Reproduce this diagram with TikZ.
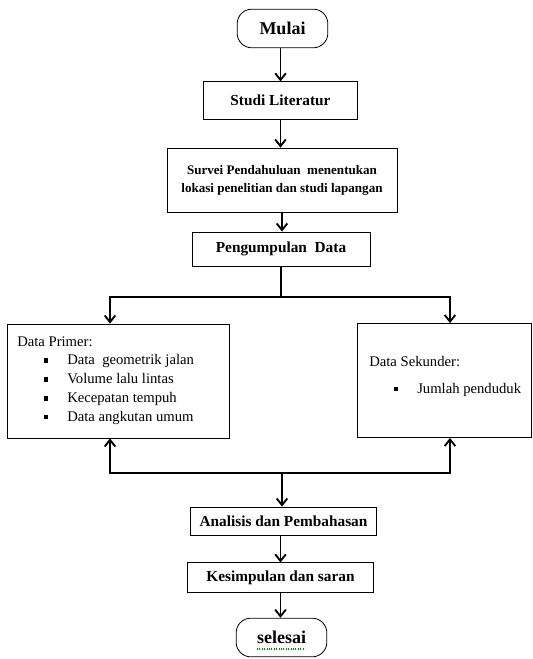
\documentclass[tikz,border=0pt]{standalone}
\usepackage{fontspec}
\setmainfont{Liberation Serif}
\usetikzlibrary{arrows.meta,positioning}

\begin{document}
\begin{tikzpicture}[x=0.75pt, y=-0.75pt, >={Straight Barb[length=5pt,width=8pt]},
    kotak/.style={draw, line width=0.6pt, inner sep=0pt, align=center,
        font=\bfseries\fontsize{11.5}{14}\selectfont},
    ujung/.style={kotak, rounded corners=11pt, font=\bfseries\fontsize{13.5}{16}\selectfont},
    panah/.style={->, line width=1.4pt, line join=miter},
    garis/.style={line width=1.4pt},
    isi/.style={anchor=base west, inner sep=0pt, font=\fontsize{11}{13}\selectfont},
    peluru/.style={fill, inner sep=0pt, minimum size=3.5pt}]

\useasboundingbox (0,0) rectangle (532,659);

% Main steps
\node[ujung, minimum width=68pt, minimum height=29pt] (mulai) at (282.5,28.5) {Mulai};
\node[kotak, minimum width=116pt, minimum height=28pt] (studi) at (280.5,100.5) {Studi Literatur};
\node[kotak, minimum width=172.5pt, minimum height=48pt,
      font=\bfseries\fontsize{9.8}{13.5}\selectfont] (survei) at (282,180)
      {Survei Pendahuluan\ \ menentukan\\lokasi penelitian dan studi lapangan};
\node[kotak, minimum width=133.5pt, minimum height=25.5pt] (kumpul) at (281,249) {Pengumpulan\ \ Data};

% Data boxes
\node[draw, line width=0.6pt, minimum width=166.5pt, minimum height=85.5pt] (primer) at (118,381) {};
\node[draw, line width=0.6pt, minimum width=130pt, minimum height=85.5pt] (sekunder) at (444.5,380.5) {};

\node[isi] (judulp) at (17,346) {Data Primer:};
\foreach \teks [count=\i] in {Data\ \ geometrik jalan, Volume lalu lintas, Kecepatan tempuh, Data angkutan umum} {
    \node[isi] (p\i) at (67,346+18.75*\i) {\teks};
    \node[peluru] (bp\i) at (46,342+18.75*\i) {};
}

\node[isi] (juduls) at (369,366) {Data Sekunder:};
\node[isi] (s1) at (417,393) {Jumlah penduduk};
\node[peluru] (bs1) at (396,389) {};

% Closing steps
\node[kotak, minimum width=140pt, minimum height=21pt] (analisis) at (283.5,521) {Analisis dan Pembahasan};
\node[kotak, minimum width=140pt, minimum height=22pt] (simpul) at (280.5,577.5) {Kesimpulan dan saran};
\node[ujung, minimum width=68pt, minimum height=29pt] (selesai) at (281.5,637.5) {selesai};
\draw[green!55!black, densely dotted, line width=0.8pt] (257,649) -- (305,649);

% Branch points
\coordinate (cabang) at (281,297);
\coordinate (kiri) at (110,297);
\coordinate (kanan) at (450,297);
\coordinate (gabung) at (282,473);
\coordinate (kiri2) at (110,473);
\coordinate (kanan2) at (450,473);

% Connectors
\draw[panah] (mulai.south -| studi) -- (studi.north);
\draw[panah] (studi.south) -- (studi.south |- survei.north);
\draw[panah] (survei.south) -- (survei.south |- kumpul.north);
\draw[garis] (kumpul.south) -- (cabang);
\draw[panah] (cabang) -- (kiri) -- (kiri |- primer.north);
\draw[panah] (cabang) -- (kanan) -- (kanan |- sekunder.north);
\draw[panah] (gabung) -- (kiri2) -- (kiri2 |- primer.south);
\draw[panah] (gabung) -- (kanan2) -- (kanan2 |- sekunder.south);
\draw[panah] (gabung) -- (gabung |- analisis.north);
\draw[panah] (analisis.south -| simpul) -- (simpul.north);
\draw[panah] (simpul.south) -- (simpul.south |- selesai.north);

\end{tikzpicture}
\end{document}
